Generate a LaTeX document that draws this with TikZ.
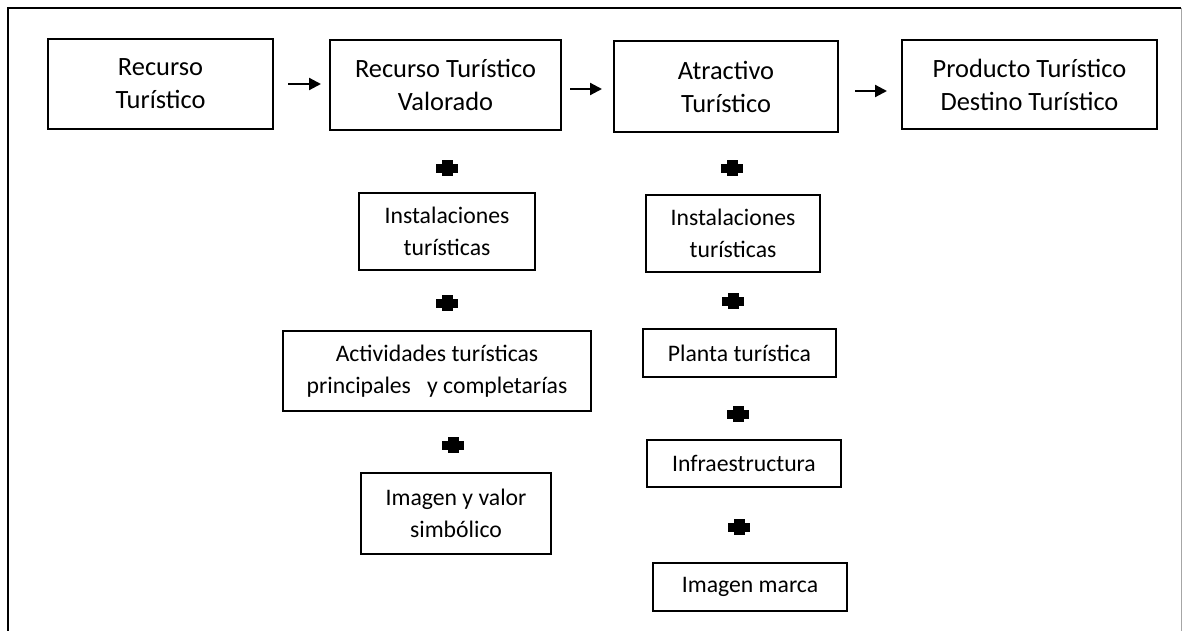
\documentclass[tikz,border=0pt]{standalone}
\usepackage{fontspec}
\setmainfont{Carlito}
\usetikzlibrary{arrows.meta}
\tikzset{
  topbox/.style={draw, line width=1pt, inner sep=0pt, align=center, font=\fontsize{13.2}{16.5}\selectfont},
  lowbox/.style={draw, line width=1pt, inner sep=0pt, align=center, font=\fontsize{11.85}{16}\selectfont},
  arr/.style={line width=1.1pt, -{Triangle[length=6pt,width=6pt]}},
  pics/plussign/.style={code={\fill (-11,-4.5) rectangle (11,4.5); \fill (-5.5,-8) rectangle (5.5,8);}}
}
\begin{document}
\begin{tikzpicture}[x=0.5pt,y=-0.5pt]
\useasboundingbox (0,0) rectangle (1183,631);
% frame
\draw[line width=1.3pt] (8,631) -- (8,8) -- (1181,8);
\draw[gray!70, line width=0.5pt] (1181.5,8) -- (1181.5,631);
% top row
\node[topbox, minimum width=112.5pt, minimum height=45pt] (b1) at (160.5,84) {Recurso\\Turístico};
\node[topbox, minimum width=115.5pt, minimum height=45pt] (b2) at (445.5,85) {Recurso Turístico\\Valorado};
\node[topbox, minimum width=112pt, minimum height=45.5pt] (b3) at (726,86.5) {Atractivo\\Turístico};
\node[topbox, minimum width=127.5pt, minimum height=44.5pt] (b4) at (1029.5,84.5) {Producto Turístico\\Destino Turístico};
% arrows
\coordinate (a1) at (288,84);
\coordinate (a2) at (570,89);
\coordinate (a3) at (855,91);
\draw[arr, shorten >=4pt] (a1) -- (a1 -| b2.west);
\draw[arr, shorten >=5.5pt] (a2) -- (a2 -| b3.west);
\draw[arr, shorten >=7pt] (a3) -- (a3 -| b4.west);
% column 1
\node[lowbox, minimum width=88pt, minimum height=38.5pt] (c1) at (447,231.5) {Instalaciones\\turísticas};
\node[lowbox, minimum width=154pt, minimum height=40pt] (c2) at (437,371) {Actividades turísticas\\principales\ \ \ y completarías};
\node[lowbox, minimum width=95pt, minimum height=40.5pt] (c3) at (456,513.5) {Imagen y valor\\simbólico};
% column 2
\node[lowbox, minimum width=87pt, minimum height=38.5pt] (d1) at (733,233.5) {Instalaciones\\turísticas};
\node[lowbox, minimum width=96.5pt, minimum height=24pt] (d2) at (739.5,353) {Planta turística};
\node[lowbox, minimum width=97pt, minimum height=23.5pt] (d3) at (744,463.5) {Infraestructura};
\node[lowbox, minimum width=97pt, minimum height=24pt] (d4) at (750,587) {Imagen marca};
% plus signs
\pic at (447,168) {plussign};
\pic at (447,303) {plussign};
\pic at (453,445) {plussign};
\pic at (732,168) {plussign};
\pic at (733,301) {plussign};
\pic at (738,414) {plussign};
\pic at (739,527) {plussign};
\end{tikzpicture}
\end{document}
